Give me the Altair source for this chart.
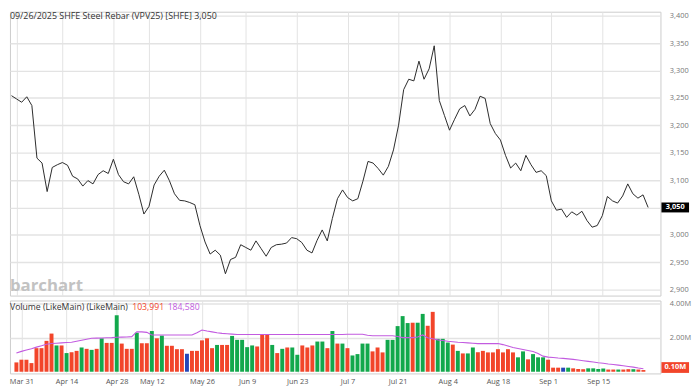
import altair as alt
import pandas as pd

# ---------------- data ----------------
price = [3254, 3248, 3242, 3252, 3236, 3140, 3131, 3079, 3123, 3128,
         3132, 3127, 3107, 3102, 3089, 3099, 3093, 3110, 3117, 3112,
         3138, 3110, 3097, 3093, 3106, 3074, 3038, 3052, 3091, 3107,
         3118, 3099, 3075, 3063, 3062, 3059, 3055, 3017, 2987, 2965,
         2972, 2963, 2929, 2955, 2959, 2982, 2977, 2972, 2989, 2975,
         2961, 2977, 2982, 2983, 2985, 2995, 2993, 2986, 2972, 2967,
         2990, 3009, 2989, 3030, 3066, 3082, 3068, 3062, 3066, 3098,
         3134, 3131, 3121, 3109, 3125, 3155, 3200, 3265, 3284, 3281,
         3317, 3284, 3303, 3345, 3245, 3218, 3191, 3211, 3230, 3236,
         3217, 3229, 3253, 3249, 3203, 3185, 3173, 3145, 3122, 3131,
         3117, 3145, 3128, 3114, 3117, 3108, 3062, 3045, 3047, 3032,
         3042, 3036, 3043, 3026, 3014, 3017, 3035, 3070, 3062, 3058,
         3071, 3093, 3075, 3067, 3073, 3050]

volume_m = [0.55, 0.71, 0.71, 0.51, 1.39, 1.39, 1.82, 2.25, 1.55, 1.55,
            1.10, 1.15, 1.23, 1.43, 1.35, 1.29, 1.35, 1.97, 1.70, 1.70,
            3.33, 1.66, 1.35, 1.35, 2.30, 1.68, 1.68, 2.40, 1.97, 2.13,
            1.53, 1.53, 1.33, 1.33, 1.06, 1.23, 1.23, 1.85, 1.97, 1.39,
            1.58, 1.58, 1.58, 2.11, 1.88, 1.88, 1.45, 1.55, 1.49, 2.17,
            2.17, 1.58, 1.10, 1.35, 1.43, 1.43, 1.00, 1.55, 1.43, 1.55,
            1.78, 1.78, 1.39, 2.40, 1.66, 1.66, 1.39, 0.96, 1.04, 1.66,
            1.66, 1.20, 1.43, 1.14, 1.88, 1.88, 2.69, 3.28, 2.87, 2.89,
            2.89, 3.41, 2.71, 3.53, 1.94, 1.94, 1.72, 1.60, 1.23, 1.08,
            1.08, 1.43, 1.15, 1.23, 1.14, 1.14, 1.33, 1.14, 1.33, 1.14,
            0.85, 1.20, 0.73, 1.04, 0.85, 0.85, 0.71, 0.24, 0.24, 0.24,
            0.24, 0.20, 0.16, 0.15, 0.20, 0.20, 0.16, 0.19, 0.13, 0.13,
            0.13, 0.13, 0.15, 0.15, 0.13, 0.10]

bar_dir = list("rrrrrrrrgrgrrgrgrgrr"
               "grrrgrrgrgrrrrbrrrrr"
               "grrgggggrrrgrgrggrrr"
               "ggrgrgrggggrrrgggggr"
               "ggrrgggrgrggrrrrrrrr"
               "ggrgggrrrbgrrrggggrr"
               "grrgrr")

volume_ma_m = [1.10, 1.20, 1.28, 1.36, 1.45, 1.53, 1.62, 1.66, 1.68, 1.70,
               1.72, 1.74, 1.80, 1.86, 1.92, 1.97, 1.98, 1.99, 2.00, 2.01,
               2.03, 2.04, 2.05, 2.07, 2.36, 2.35, 2.32, 2.17, 2.17, 2.17,
               2.17, 2.17, 2.17, 2.17, 2.17, 2.17, 2.30, 2.46, 2.40, 2.35,
               2.30, 2.26, 2.24, 2.22, 2.20, 2.20, 2.20, 2.20, 2.20, 2.20,
               2.20, 2.20, 2.20, 2.20, 2.20, 2.20, 2.20, 2.20, 2.20, 2.20,
               2.20, 2.20, 2.20, 2.20, 2.20, 2.20, 2.21, 2.21, 2.21, 2.21,
               2.15, 2.12, 2.12, 2.12, 2.12, 2.12, 2.08, 2.01, 2.01, 2.01,
               2.05, 2.17, 2.00, 1.95, 1.88, 1.84, 1.80, 1.77, 1.74, 1.72,
               1.70, 1.68, 1.66, 1.66, 1.66, 1.66, 1.66, 1.60, 1.52, 1.43,
               1.37, 1.31, 1.25, 1.19, 1.08, 0.92, 0.86, 0.84, 0.81, 0.79,
               0.76, 0.73, 0.69, 0.65, 0.61, 0.57, 0.53, 0.50, 0.46, 0.43,
               0.39, 0.35, 0.31, 0.27, 0.22, 0.18]

tick_index = [1, 10, 20, 27, 37, 46, 56, 66, 76, 86, 96, 106, 116]
tick_labels = ["Mar 31", "Apr 14", "Apr 28", "May 12", "May 26", "Jun 9",
               "Jun 23", "Jul 7", "Jul 21", "Aug 4", "Aug 18", "Sep 1", "Sep 15"]
price_ticks = [2900, 2950, 3000, 3050, 3100, 3150, 3200, 3250, 3300, 3350, 3400]
volume_ticks = [2, 4]

title_text = "09/26/2025 SHFE Steel Rebar (VPV25) [SHFE] 3,050"
vol_title = "Volume (LikeMain)  (LikeMain)"
vol_last = "103,991"
vol_ma_last = "184,580"
last_price = 3050
last_price_label = "3,050"
last_vol_label = "0.10M"

# ---------------- styling ----------------
FONT = "Open Sans"
GRID = "#e3e3e3"
RED = "#f2452a"
GREEN = "#12a84c"
BLUE = "#2447b8"
MA_COLOR = "#c25be0"
W = 660
H_PRICE = 288
H_VOL = 74

df = pd.DataFrame({
    "i": list(range(len(price))),
    "price": price,
    "vol": volume_m,
    "dir": bar_dir,
    "ma": volume_ma_m,
})

label_expr = " : ".join(
    f"datum.value == {k} ? '{lab}'" for k, lab in zip(tick_index, tick_labels)
) + " : ''"

xscale = alt.Scale(domain=[-0.3, 127.42], nice=False, zero=False)

x_grid_only = alt.X("i:Q", scale=xscale,
                    axis=alt.Axis(values=tick_index, grid=True, gridColor=GRID,
                                  labels=False, ticks=False, domain=False,
                                  title=None, minExtent=0, maxExtent=0))

pscale = alt.Scale(domain=[2889.2, 3407.2], nice=False, zero=False)
# the last-price tag covers its own tick label, so that label is left blank
price_axis = alt.Axis(orient="right", values=price_ticks,
                      labelExpr=f"datum.value == {last_price} ? '' : format(datum.value, ',d')",
                      grid=True, gridColor=GRID, gridWidth=1.4, ticks=False,
                      domain=False, labelPadding=9, labelFontSize=7.5,
                      labelOverlap=False, labelBound=False,
                      labelColor="#777", labelFont=FONT, title=None)

base = alt.Chart(df)

line = base.mark_line(color="#2a2a2a", strokeWidth=1).encode(
    x=x_grid_only,
    y=alt.Y("price:Q", scale=pscale, axis=price_axis),
)


def label(text, x, y, size, color, weight="normal", align="left",
          baseline="middle"):
    return alt.Chart(pd.DataFrame({"t": [text]})).mark_text(
        align=align, baseline=baseline, font=FONT, fontSize=size,
        fontWeight=weight, color=color
    ).encode(x=alt.value(x), y=alt.value(y), text="t:N")


title_mark = label(title_text, 0, 0, 9, "#333", baseline="top")
watermark = label("barchart", 0, 283, 17, "#c2c2c2", weight="bold",
                  baseline="alphabetic")

last_df = pd.DataFrame({"p": [last_price], "t": [last_price_label]})
box_shape = "M-1,-0.36L1,-0.36L1,0.36L-1,0.36Z"
last_box = alt.Chart(last_df).mark_point(
    shape=box_shape, size=28 * 28, filled=True, color="#000", opacity=1
).encode(x=alt.value(W + 15), y=alt.Y("p:Q", scale=pscale, axis=price_axis))
last_txt = alt.Chart(last_df).mark_text(
    font=FONT, fontSize=7.5, fontWeight="bold", color="white",
    align="center", baseline="middle"
).encode(x=alt.value(W + 15), y=alt.Y("p:Q", scale=pscale, axis=price_axis),
         text="t:N")

price_chart = alt.layer(line, title_mark, watermark, last_box, last_txt).properties(
    width=W, height=H_PRICE)

# ---------------- volume panel ----------------
vscale = alt.Scale(domain=[-0.1, 4.2], nice=False, zero=False)
x_labels = alt.X("i:Q", scale=xscale,
                 axis=alt.Axis(values=tick_index, grid=True, gridColor=GRID,
                               labelExpr=label_expr, ticks=False, domain=False,
                               labelPadding=4, labelFontSize=7.5, labelFont=FONT,
                               labelOverlap=False, labelBound=False,
                               labelFlush=False,
                               labelColor="#555", title=None))
vol_axis = alt.Axis(orient="right", values=volume_ticks,
                    labelExpr="format(datum.value, '.2f') + 'M'",
                    grid=True, gridColor=GRID, gridWidth=1.4, ticks=False,
                    domain=False, labelPadding=9, labelFontSize=7.5,
                    labelOverlap=False,
                    labelColor="#777", labelFont=FONT, title=None)

bars = base.mark_bar(size=4).encode(
    x=x_labels,
    y=alt.Y("vol:Q", scale=vscale, axis=vol_axis),
    y2=alt.datum(0),
    color=alt.Color("dir:N", scale=alt.Scale(domain=["r", "g", "b"],
                                             range=[RED, GREEN, BLUE]),
                    legend=None),
)
ma_line = base.mark_line(color=MA_COLOR, strokeWidth=1.1).encode(
    x=x_labels, y=alt.Y("ma:Q", scale=vscale, axis=vol_axis))

vt1 = label(vol_title, 0, 7, 8.8, "#333")
vt2 = label(vol_last, 124, 7, 8.8, RED)
vt3 = label(vol_ma_last, 160, 7, 8.8, MA_COLOR)

vol_box = alt.Chart(pd.DataFrame({"t": [last_vol_label]})).mark_point(
    shape="M-1,-0.39L1,-0.39L1,0.39L-1,0.39Z", size=28 * 28, filled=True,
    color=RED, opacity=1
).encode(x=alt.value(W + 15), y=alt.value(H_VOL - 6))
vol_box_txt = label(last_vol_label, W + 15, H_VOL - 6, 7.5, "white",
                    weight="bold", align="center")

vol_chart = alt.layer(bars, ma_line, vt1, vt2, vt3, vol_box, vol_box_txt).properties(
    width=W, height=H_VOL)

chart = alt.vconcat(price_chart, vol_chart, spacing=2).properties(
    padding=0, background="white"
).configure_view(stroke="#cccccc", strokeWidth=1)

chart.save("out.html", embed_options={"renderer": "svg", "actions": False})
